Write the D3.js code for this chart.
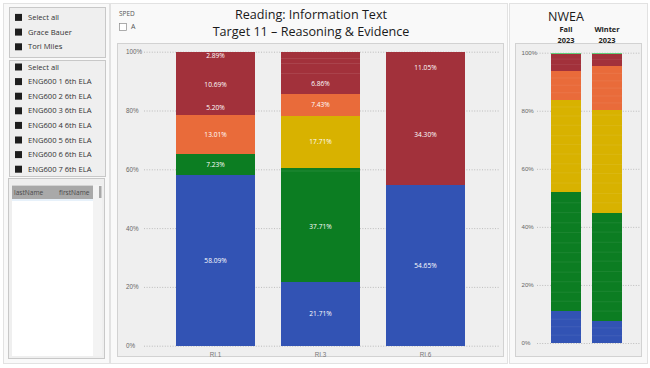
<!DOCTYPE html>
<html><head><meta charset="utf-8">
<script src="https://cdn.jsdelivr.net/npm/d3@7"></script>
<style>
html,body{margin:0;padding:0;background:#ffffff;}
svg{display:block;font-family:"Open Sans","Noto Sans",sans-serif;}
</style></head>
<body>
<svg id="c" width="650" height="368"></svg>
<script>
// ---------- data ----------
const teachers = ["Select all", "Grace Bauer", "Tori Miles"];
const sections = ["Select all", "ENG600 1 6th ELA", "ENG600 2 6th ELA", "ENG600 3 6th ELA", "ENG600 4 6th ELA", "ENG600 5 6th ELA", "ENG600 6 6th ELA", "ENG600 7 6th ELA"];
const tableColumns = ["lastName", "firstName"];
const spedOptions = ["A"];

const titleLines = ["Reading: Information Text", "Target 11 \u2013 Reasoning & Evidence"];
const categories = ["RI.1", "RI.3", "RI.6"];
const ri1Values = [58.09, 7.23, 13.01, 5.20, 10.69, 2.89, 2.89];
const ri1Groups = ["blue", "green", "orange", "red", "red", "red", "red"];
const ri1Shown  = [1, 1, 1, 1, 1, 0, 1];
const ri3Values = [21.71, 37.71, 1.14, 17.71, 7.43, 6.86, 3.43, 1.71, 2.30];
const ri3Groups = ["blue", "green", "green", "yellow", "orange", "red", "red", "red", "red"];
const ri3Shown  = [1, 1, 0, 1, 1, 1, 0, 0, 0];
const ri6Values = [54.65, 34.30, 11.05];
const ri6Groups = ["blue", "red", "red"];
const ri6Shown  = [1, 1, 1];
const yTicks = [0, 20, 40, 60, 80, 100];

const nweaTitle = "NWEA";
const terms = ["Fall", "Winter"];
const termYears = ["2023", "2023"];
const fallBlue = [2.7, 2.9, 2.6, 2.8];
const fallGreen = [3.4, 3.1, 3.6, 3.3, 3.5, 3.2, 3.4, 3.6, 3.3, 3.5, 3.4, 3.6];
const fallYellow = [3.2, 3.5, 3.1, 3.4, 3.3, 3.0, 3.6, 3.2, 3.1, 2.5];
const fallOrange = [2.4, 2.6, 2.5, 2.5];
const fallRed = [2.1, 1.9, 1.8];
const fallTop = [0.4];
const winterBlue = [2.5, 2.7, 2.4];
const winterGreen = [3.4, 3.2, 3.6, 3.3, 3.5, 3.6, 3.1, 3.4, 3.5, 3.2, 3.5];
const winterYellow = [3.4, 3.2, 3.6, 3.3, 3.1, 3.5, 3.2, 3.4, 3.3, 3.6, 1.6];
const winterOrange = [2.6, 2.4, 2.7, 2.5, 2.6, 2.6];
const winterRed = [2.2, 1.9];
const winterTop = [0.4];

const colors = {blue: "#3253b4", green: "#0c7d22", yellow: "#d8b200", orange: "#e96b3a", red: "#a2313b", top: "#5fcf7a"};

// ---------- build stacks ----------
function stack(values, groups, shown) {
  let acc = 0;
  return values.map((v, i) => {
    const s = {y0: acc, y1: acc + v, v, g: groups[i], shown: shown ? shown[i] : 0,
               sameAsPrev: i > 0 && groups[i - 1] === groups[i]};
    acc += v;
    return s;
  });
}
const mainBars = [
  {cat: categories[0], segs: stack(ri1Values, ri1Groups, ri1Shown), sep: 0.0},
  {cat: categories[1], segs: stack(ri3Values, ri3Groups, ri3Shown), sep: 0.12},
  {cat: categories[2], segs: stack(ri6Values, ri6Groups, ri6Shown), sep: 0.0}
];
function nweaStack(parts) {
  const vals = [], groups = [];
  parts.forEach(([arr, g]) => arr.forEach(v => { vals.push(v); groups.push(g); }));
  return stack(vals, groups, null);
}
const nweaBars = [
  {cat: terms[0], year: termYears[0], segs: nweaStack([[fallBlue, "blue"], [fallGreen, "green"], [fallYellow, "yellow"], [fallOrange, "orange"], [fallRed, "red"], [fallTop, "top"]])},
  {cat: terms[1], year: termYears[1], segs: nweaStack([[winterBlue, "blue"], [winterGreen, "green"], [winterYellow, "yellow"], [winterOrange, "orange"], [winterRed, "red"], [winterTop, "top"]])}
];

const svg = d3.select("#c");

// ---------- containers ----------
[[3, 3, 106, 360], [110, 3, 397, 360], [509, 3, 138, 360]].forEach(([x, y, w, h]) => {
  svg.append("rect").attr("x", x + 0.5).attr("y", y + 0.5).attr("width", w).attr("height", h)
    .attr("fill", "#f9f9f9").attr("stroke", "#e2e2e2");
});

// ---------- left slicers ----------
function slicer(items, x, y, w, h, startY, step) {
  svg.append("rect").attr("x", x + 0.5).attr("y", y + 0.5).attr("width", w).attr("height", h)
    .attr("fill", "#efefef").attr("stroke", "#c8c8c8");
  const g = svg.append("g");
  items.forEach((t, i) => {
    const cy = startY + i * step;
    g.append("rect").attr("x", 15).attr("y", cy - 3.5).attr("width", 7).attr("height", 7).attr("fill", "#1e1e1e");
    g.append("text").attr("x", 28).attr("y", cy).attr("dy", "0.35em")
      .attr("font-size", 7.6).attr("fill", "#333").text(t);
  });
}
slicer(teachers, 9, 7, 96, 50, 17.4, 14.7);
slicer(sections, 9, 60, 96, 116, 67, 14.6);

// table box
svg.append("rect").attr("x", 8.5).attr("y", 178.5).attr("width", 96).attr("height", 180)
  .attr("fill", "#efefef").attr("stroke", "#c8c8c8");
svg.append("rect").attr("x", 12).attr("y", 185).attr("width", 81).attr("height", 171).attr("fill", "#ffffff");
svg.append("rect").attr("x", 93).attr("y", 185).attr("width", 9).attr("height", 171).attr("fill", "#f3f3f3");
svg.append("rect").attr("x", 99).attr("y", 186).attr("width", 2.5).attr("height", 12).attr("fill", "#a8a8a8");
svg.append("rect").attr("x", 12).attr("y", 185.5).attr("width", 81).attr("height", 13.5).attr("fill", "#a9a9a9");
svg.append("rect").attr("x", 12).attr("y", 199).attr("width", 81).attr("height", 2).attr("fill", "#e7f1fa");
tableColumns.forEach((t, i) => {
  svg.append("text").attr("x", i === 0 ? 14 : 59).attr("y", 192.3).attr("dy", "0.35em")
    .attr("font-size", 6.6).attr("fill", "#4a4a4a").text(t);
});

// SPED slicer
svg.append("text").attr("x", 119).attr("y", 14).attr("dy", "0.35em").attr("font-size", 6.5).attr("fill", "#555").text("SPED");
spedOptions.forEach((t, i) => {
  svg.append("rect").attr("x", 119.5).attr("y", 23.5 + i * 12).attr("width", 7).attr("height", 7)
    .attr("fill", "#fff").attr("stroke", "#8a8a8a").attr("stroke-width", 0.7);
  svg.append("text").attr("x", 131).attr("y", 27 + i * 12).attr("dy", "0.35em").attr("font-size", 7).attr("fill", "#555").text(t);
});

// titles
titleLines.forEach((t, i) => {
  svg.append("text").attr("x", 311).attr("y", 15 + i * 17).attr("dy", "0.35em")
    .attr("text-anchor", "middle").attr("font-size", 12.6).attr("fill", "#1a1a1a").text(t);
});

// ---------- main chart ----------
svg.append("rect").attr("x", 117.5).attr("y", 43.5).attr("width", 386).attr("height", 313)
  .attr("fill", "#efefef").attr("stroke", "#d2d2d2");

const y = d3.scaleLinear().domain([0, 100]).range([345.7, 51.7]);
const x = d3.scaleBand().domain(categories).range([150, 491]).paddingInner(0.248).paddingOuter(0.248);

const yAxis = svg.append("g").attr("transform", "translate(144,0)")
  .call(d3.axisLeft(y).tickValues(yTicks).tickFormat(d => d + "%").tickSize(-356).tickSizeOuter(0));
yAxis.select(".domain").remove();
yAxis.selectAll(".tick line").attr("stroke", "#9a9a9a").attr("stroke-width", 0.6).attr("stroke-dasharray", "1,1.6");
yAxis.selectAll(".tick text").attr("x", -18).attr("text-anchor", "start").attr("font-size", 6.3).attr("fill", "#666");

const xAxis = svg.append("g").attr("transform", "translate(0,345.7)")
  .call(d3.axisBottom(x).tickSize(0).tickPadding(7));
xAxis.select(".domain").remove();
xAxis.selectAll(".tick text").attr("font-size", 6.3).attr("fill", "#777");

const bars = svg.append("g").selectAll("g").data(mainBars).join("g")
  .attr("transform", d => `translate(${x(d.cat)},0)`);
bars.selectAll("rect").data(d => d.segs).join("rect")
  .attr("x", 0).attr("width", x.bandwidth())
  .attr("y", s => y(s.y1)).attr("height", s => y(s.y0) - y(s.y1))
  .attr("fill", s => colors[s.g]).attr("shape-rendering", "crispEdges");
bars.each(function(d) {
  if (!d.sep) return;
  d3.select(this).selectAll("line.sep").data(d.segs.filter(s => s.sameAsPrev)).join("line")
    .attr("class", "sep").attr("x1", 0).attr("x2", x.bandwidth())
    .attr("y1", s => y(s.y0)).attr("y2", s => y(s.y0))
    .attr("stroke", "#ffffff").attr("stroke-opacity", d.sep).attr("stroke-width", 0.8);
});
bars.selectAll("text").data(d => d.segs.filter(s => s.shown)).join("text")
  .attr("x", x.bandwidth() / 2).attr("y", s => y((s.y0 + s.y1) / 2)).attr("dy", "0.35em")
  .attr("text-anchor", "middle").attr("font-size", 6.6).attr("fill", "#ffffff")
  .text(s => s.v.toFixed(2) + "%");

// ---------- NWEA chart ----------
svg.append("text").attr("x", 566).attr("y", 17).attr("dy", "0.35em").attr("text-anchor", "middle")
  .attr("font-size", 12.5).attr("fill", "#1a1a1a").text(nweaTitle);

svg.append("rect").attr("x", 515.5).attr("y", 43.5).attr("width", 126).attr("height", 313)
  .attr("fill", "#efefef").attr("stroke", "#d2d2d2");

const yN = d3.scaleLinear().domain([0, 100]).range([343, 52.7]);
const xN = d3.scaleBand().domain(terms).range([530.2, 642.8]).paddingInner(0.254).paddingOuter(0.5);

nweaBars.forEach(b => {
  svg.append("text").attr("x", xN(b.cat) + xN.bandwidth() / 2).attr("y", 29.5).attr("dy", "0.35em")
    .attr("text-anchor", "middle").attr("font-size", 7.4).attr("font-weight", "bold").attr("fill", "#222").text(b.cat);
  svg.append("text").attr("x", xN(b.cat) + xN.bandwidth() / 2).attr("y", 40).attr("dy", "0.35em")
    .attr("text-anchor", "middle").attr("font-size", 7.4).attr("font-weight", "bold").attr("fill", "#222").text(b.year);
});

const yAxisN = svg.append("g").attr("transform", "translate(537,0)")
  .call(d3.axisLeft(yN).tickValues(yTicks).tickFormat(d => d + "%").tickSize(-103).tickSizeOuter(0));
yAxisN.select(".domain").remove();
yAxisN.selectAll(".tick line").attr("stroke", "#9a9a9a").attr("stroke-width", 0.6).attr("stroke-dasharray", "1,1.6");
yAxisN.selectAll(".tick text").attr("x", -15.5).attr("text-anchor", "start").attr("font-size", 6.1).attr("fill", "#666");

const nb = svg.append("g").selectAll("g").data(nweaBars).join("g")
  .attr("transform", d => `translate(${xN(d.cat)},0)`);
nb.selectAll("rect").data(d => d.segs).join("rect")
  .attr("x", 0).attr("width", xN.bandwidth())
  .attr("y", s => yN(s.y1)).attr("height", s => yN(s.y0) - yN(s.y1))
  .attr("fill", s => colors[s.g]).attr("shape-rendering", "crispEdges");
nb.selectAll("line.sep").data(d => d.segs.filter(s => s.sameAsPrev)).join("line")
  .attr("class", "sep").attr("x1", 0).attr("x2", xN.bandwidth())
  .attr("y1", s => yN(s.y0)).attr("y2", s => yN(s.y0))
  .attr("stroke", "#ffffff").attr("stroke-opacity", 0.1).attr("stroke-width", 0.7);
</script>
</body></html>
